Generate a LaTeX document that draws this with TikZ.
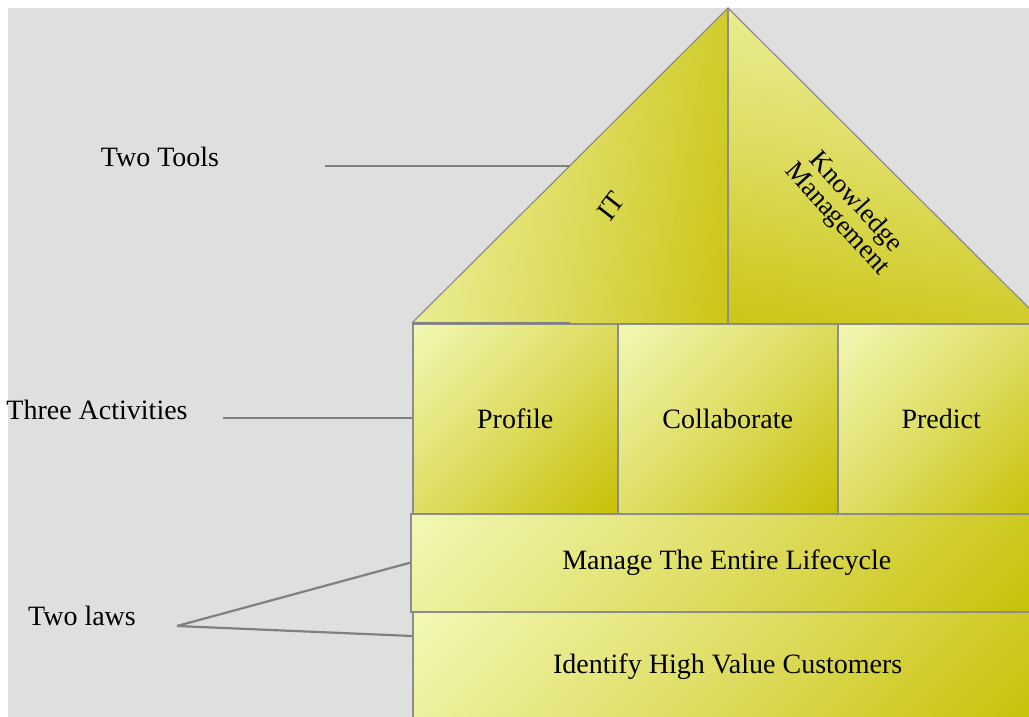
\documentclass[tikz,border=0pt]{standalone}
\usepackage{fontspec}
\setmainfont{Liberation Serif}
\definecolor{bggray}{HTML}{DFDFDF}
\definecolor{lightY}{HTML}{F3F9B8}
\definecolor{midY}{HTML}{DEDD62}
\definecolor{darkY}{HTML}{C6BF00}
\definecolor{boxline}{HTML}{8C8C8C}
\definecolor{connline}{HTML}{808080}
\pgfdeclareverticalshading{yelshade}{100bp}{color(0bp)=(darkY); color(13bp)=(darkY); color(50bp)=(midY); color(87bp)=(lightY); color(100bp)=(lightY)}
\begin{document}
\begin{tikzpicture}[x=1pt,y=-1pt,
  txt/.style={font=\fontsize{28}{32}\selectfont, inner sep=0pt},
  box/.style={draw=boxline, line width=1.5pt, shade, shading=yelshade,
    shading angle=45, inner sep=0pt, anchor=north west, txt},
  conn/.style={draw=connline, line width=2.2pt},
  roofline/.style={draw=boxline, line width=1.2pt}]
\useasboundingbox (0,0) rectangle (1029,717);
\fill[white] (0,0) rectangle (1029,717);
\fill[bggray] (8,8) rectangle (1029,717);

% roof
\coordinate (apex) at (728,8);
\coordinate (roofL) at (412,323);
\coordinate (roofM) at (728,323);
\coordinate (roofR) at (1044,323);
\shade[shading=yelshade, shading angle=80] (apex) -- (roofL) -- (roofM) -- cycle;
\shade[shading=yelshade, shading angle=-10] (apex) -- (roofM) -- (roofR) -- cycle;
\draw[roofline] (roofL) -- (apex) -- (roofR);
\draw[roofline, line width=1.6pt] (apex) -- (roofM);
\node[txt, rotate=52] (it) at (611,206) {IT};
\node[txt, rotate=-48, align=center, font=\fontsize{27}{25}\selectfont] (km) at (846,211) {Knowledge\\Management};

% activities
\node[box, minimum width=205, minimum height=190] (profile) at (412,323) {Profile};
\node[box, minimum width=220, minimum height=190] (collab) at (617,323) {Collaborate};
\node[box, minimum width=207, minimum height=190] (predict) at (837,323) {Predict};

% laws
\node[box, minimum width=632, minimum height=98] (manage) at (410,513) {Manage The Entire Lifecycle};
\node[box, minimum width=630, minimum height=110] (identify) at (412,611) {Identify High Value Customers};

% labels
\node[txt] (tools) at (160,157) {Two Tools};
\node[txt] (acts) at (97,410) {Three Activities};
\node[txt] (laws) at (82,616) {Two laws};

% connectors
\coordinate (toolsEnd) at (325,166);
\coordinate (toolsRoof) at (570,166);
\coordinate (baseEnd) at (570,323);
\coordinate (actsEnd) at (223,418);
\coordinate (lawsEnd) at (177,626);
\coordinate (identL) at (412,636);
\draw[conn] (toolsEnd) -- (toolsRoof);
\draw[conn] (roofL) -- (baseEnd);
\draw[conn] (actsEnd) -- (profile.west |- actsEnd);
\draw[conn] (lawsEnd) -- (manage.west);
\draw[conn] (lawsEnd) -- (identL);
\end{tikzpicture}
\end{document}
